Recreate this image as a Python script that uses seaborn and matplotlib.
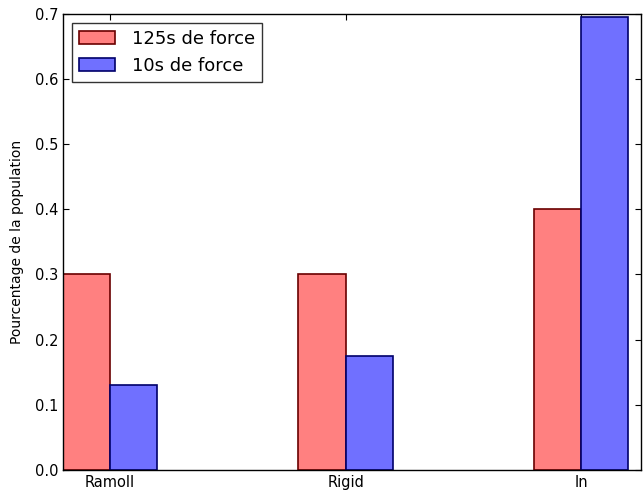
import pandas as pd
import matplotlib
matplotlib.use("Agg")
import matplotlib.pyplot as plt
import seaborn as sns

# donnees
categories = ["Ramoll", "Rigid", "In"]
force_125s = [0.30, 0.30, 0.40]
force_10s = [0.13, 0.174, 0.695]
series = ["125s de force", "10s de force"]

df = pd.DataFrame({
    "categorie": categories * 2,
    "valeur": force_125s + force_10s,
    "serie": [series[0]] * 3 + [series[1]] * 3,
})

sns.set_style("white")
plt.rcParams["font.family"] = ["DejaVu Sans"]
plt.rcParams["text.color"] = "black"
plt.rcParams["axes.labelcolor"] = "black"
plt.rcParams["xtick.color"] = "black"
plt.rcParams["ytick.color"] = "black"

fig = plt.figure(figsize=(6.43, 4.93), dpi=100)
ax = fig.add_axes([0.098, 0.047, 0.899, 0.925])

sns.barplot(
    data=df,
    x="categorie",
    y="valeur",
    hue="serie",
    order=categories,
    hue_order=series,
    palette=["#ff8080", "#7070ff"],
    width=0.4,
    gap=0,
    errorbar=None,
    saturation=1,
    ax=ax,
)

# bordures des barres
edge = {0: "#6a0000", 1: "#00006a"}
for i, cont in enumerate(ax.containers):
    for p in cont:
        p.set_edgecolor(edge[i])
        p.set_linewidth(1.2)

ax.set_xlim(-0.2, 2.255)
ax.set_ylim(0, 0.7)
ax.set_xlabel("")
ax.set_ylabel("Pourcentage de la population", fontsize=10, labelpad=8)

for s in ax.spines.values():
    s.set_color("black")
    s.set_linewidth(1)

ax.tick_params(axis="both", direction="in", length=4, width=0.8,
               top=True, right=True, bottom=True, left=True, labelsize=10.5)
ax.set_yticks([0.0, 0.1, 0.2, 0.3, 0.4, 0.5, 0.6, 0.7])

handles, labels = ax.get_legend_handles_labels()
for h, c in zip(handles, edge.values()):
    h.set_edgecolor(c)
    h.set_linewidth(1.2)
leg = ax.legend(handles, labels, loc="upper left", fontsize=13,
                frameon=True, fancybox=False, borderaxespad=0.5,
                handlelength=2.0, handletextpad=0.9)
leg.get_frame().set_edgecolor("black")
leg.get_frame().set_linewidth(1)

plt.savefig("out.png", dpi=100)
